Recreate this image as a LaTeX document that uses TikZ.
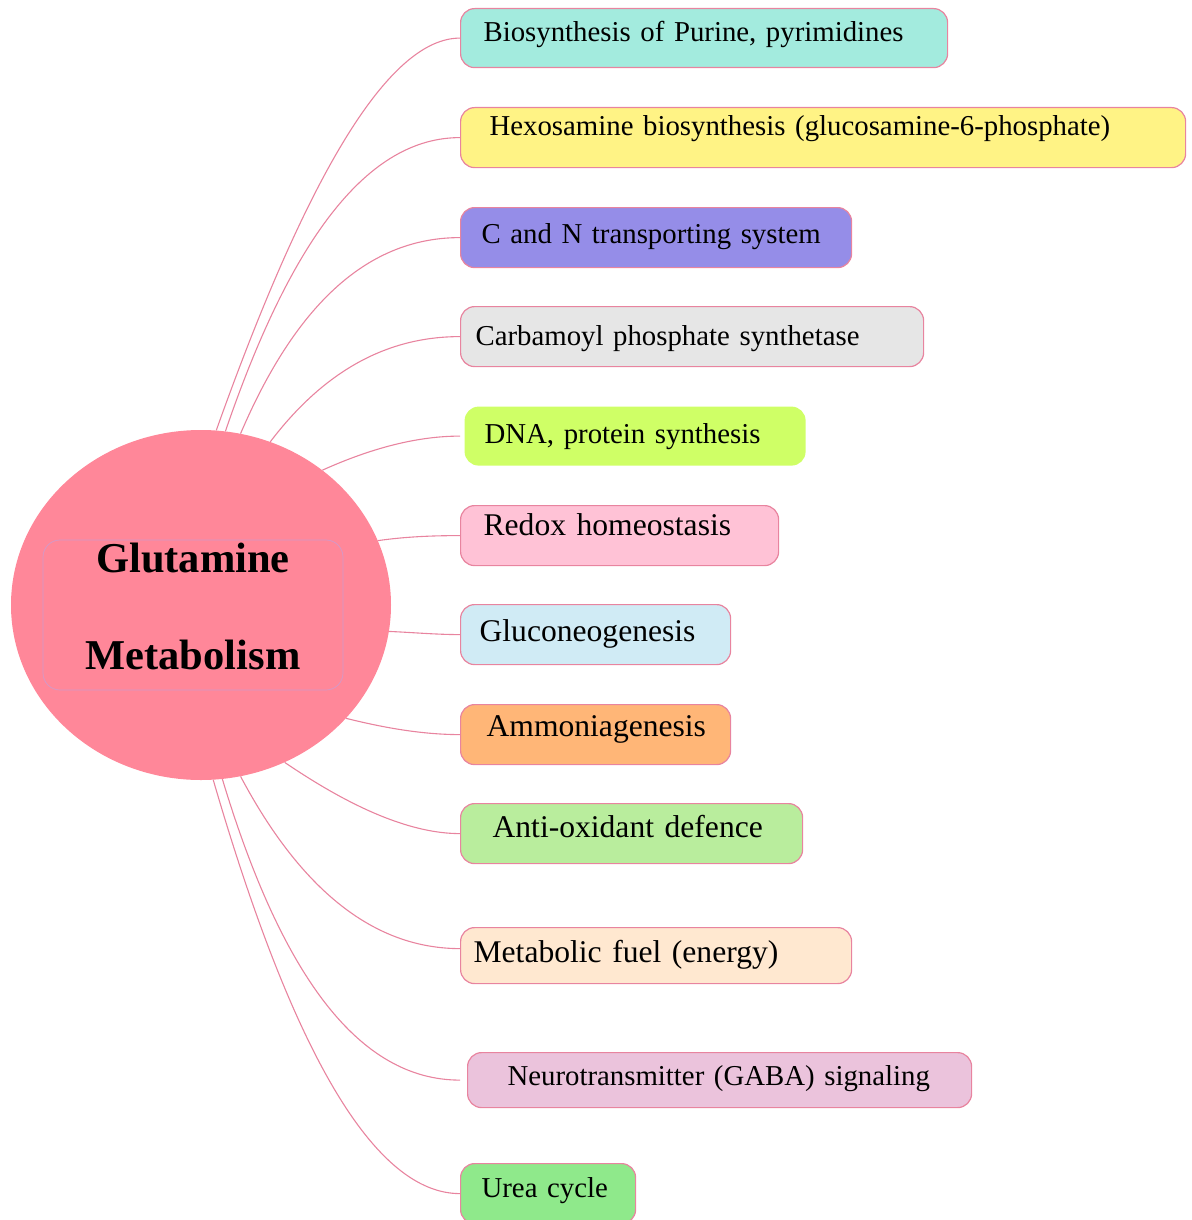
\documentclass[tikz,border=0pt]{standalone}
\usepackage{fontspec}
\setmainfont{Liberation Serif}
\usepackage{xcolor}
\usepackage{tikz}
\usetikzlibrary{
  shapes.geometric
}
\hyphenpenalty=10000
\exhyphenpenalty=10000
\definecolor{HubPink}{HTML}{FF8799}
\definecolor{LinkPink}{HTML}{E8849F}
\definecolor{TitleLine}{HTML}{D19ACB}
\definecolor{TopicTeal}{HTML}{A3EBDE}
\definecolor{TopicYellow}{HTML}{FFF385}
\definecolor{TopicViolet}{HTML}{958DE8}
\definecolor{TopicGray}{HTML}{E6E6E6}
\definecolor{TopicLime}{HTML}{CFFF66}
\definecolor{TopicPink}{HTML}{FFC2D6}
\definecolor{TopicSky}{HTML}{D0EBF5}
\definecolor{TopicOrange}{HTML}{FFB677}
\definecolor{TopicGreen}{HTML}{B9ED9D}
\definecolor{TopicPeach}{HTML}{FFE8D0}
\definecolor{TopicMauve}{HTML}{EBC3DC}
\definecolor{TopicLeaf}{HTML}{8FE98B}
\tikzset{
  hub/.style={
    ellipse,
    fill=HubPink,
    minimum width=380pt,
    minimum height=350pt,
    inner sep=0pt
  },
  hubtitle/.style={
    draw=TitleLine,
    line width=0.7pt,
    rounded corners=17pt,
    align=center,
    inner sep=0pt,
    minimum width=300pt,
    minimum height=150pt,
    font=\bfseries\fontsize{42.5}{97}\selectfont
  },
  topic/.style={
    draw=LinkPink,
    line width=1.2pt,
    rounded corners=14pt,
    anchor=north west,
    align=left,
    inner ysep=0pt,
    font=\fontsize{28.8}{35}\selectfont
  },
  bigtopic/.style={
    topic,
    font=\fontsize{31.6}{38}\selectfont
  },
  link/.style={
    draw=LinkPink,
    line width=1.1pt
  }
}

\begin{document}
\begin{tikzpicture}[x=1pt,y=1pt]

  \useasboundingbox (0,0) rectangle (1191,-1220);

  \node[hub] (glu) at (201,-605) {};

  \node[
    hubtitle,
    text depth=18pt
  ] (title) at (193,-615) {
    Glutamine\\
    Metabolism
  };

  \node[
    topic,
    fill=TopicTeal,
    inner xsep=23pt,
    text width=441pt,
    text height=33pt,
    text depth=26pt
  ] (purine) at (460,-8) {
    Biosynthesis of Purine, pyrimidines
  };

  \node[
    topic,
    fill=TopicYellow,
    inner xsep=29pt,
    text width=667pt,
    text height=28pt,
    text depth=32pt
  ] (hexosamine) at (460,-107) {
    Hexosamine biosynthesis (glucosamine-6-phosphate)
  };

  \node[
    topic,
    fill=TopicViolet,
    inner xsep=21pt,
    text width=349pt,
    text height=36pt,
    text depth=24pt
  ] (transport) at (460,-207) {
    C and N transporting system
  };

  \node[
    topic,
    fill=TopicGray,
    inner xsep=15pt,
    text width=433pt,
    text height=39pt,
    text depth=21pt
  ] (carbamoyl) at (460,-306) {
    Carbamoyl phosphate synthetase
  };

  \node[
    topic,
    draw=none,
    fill=TopicLime,
    inner xsep=20pt,
    text width=301pt,
    text height=37pt,
    text depth=22pt
  ] (dna) at (464,-406) {
    DNA, protein synthesis
  };

  \node[
    bigtopic,
    fill=TopicPink,
    inner xsep=23pt,
    text width=272pt,
    text height=30pt,
    text depth=30pt
  ] (redox) at (460,-505) {
    Redox homeostasis
  };

  \node[
    bigtopic,
    fill=TopicSky,
    inner xsep=19pt,
    text width=232pt,
    text height=37pt,
    text depth=23pt
  ] (gluco) at (460,-604) {
    Gluconeogenesis
  };

  \node[
    bigtopic,
    fill=TopicOrange,
    inner xsep=26pt,
    text width=218pt,
    text height=32pt,
    text depth=28pt
  ] (ammonia) at (460,-704) {
    Ammoniagenesis
  };

  \node[
    bigtopic,
    fill=TopicGreen,
    inner xsep=32pt,
    text width=278pt,
    text height=34pt,
    text depth=26pt
  ] (antiox) at (460,-803) {
    Anti-oxidant defence
  };

  \node[
    bigtopic,
    fill=TopicPeach,
    inner xsep=13pt,
    text width=365pt,
    text height=35pt,
    text depth=21pt
  ] (fuel) at (460,-927) {
    Metabolic fuel (energy)
  };

  \node[
    topic,
    fill=TopicMauve,
    inner xsep=40pt,
    text width=424pt,
    text height=33pt,
    text depth=22pt
  ] (neuro) at (467,-1052) {
    Neurotransmitter (GABA) signaling
  };

  \node[
    topic,
    fill=TopicLeaf,
    inner xsep=21pt,
    text width=133pt,
    text height=34pt,
    text depth=26pt
  ] (urea) at (460,-1163) {
    Urea cycle
  };

  \draw[link]
  (glu.85) .. controls +(93,261) and +(-70,0) ..
  (purine.west);

  \draw[link]
  (glu.82.5) .. controls +(67,196) and +(-91,0) ..
  (hexosamine.west);

  \draw[link]
  (glu.77) .. controls +(56,131) and +(-91,0) ..
  (transport.west);

  \draw[link]
  (glu.67) .. controls +(54,71) and +(-73,0) ..
  (carbamoyl.west);

  \draw[link]
  (glu.48) .. controls +(51,23) and +(-41,0) ..
  ([xshift=-4pt]dna.west);

  \draw[link]
  (glu.20) .. controls +(28,4) and +(-27,0) ..
  (redox.west);

  \draw[link]
  (glu.-8) .. controls +(23,-1) and +(-23,0) ..
  (gluco.west);

  \draw[link]
  (glu.-38) .. controls +(40,-10) and +(-36,0) ..
  (ammonia.west);

  \draw[link]
  (glu.-62) .. controls +(69,-47) and +(-48,0) ..
  (antiox.west);

  \draw[link]
  (glu.-77) .. controls +(61,-115) and +(-85,0) ..
  ([yshift=7pt]fuel.west);

  \draw[link]
  (glu.-83.7) .. controls +(60,-199) and +(-100,0) ..
  ([xshift=-7pt]neuro.west);

  \draw[link]
  (glu.-86.4) .. controls +(80,-275) and +(-85,0) ..
  (urea.west);

\end{tikzpicture}
\end{document}
